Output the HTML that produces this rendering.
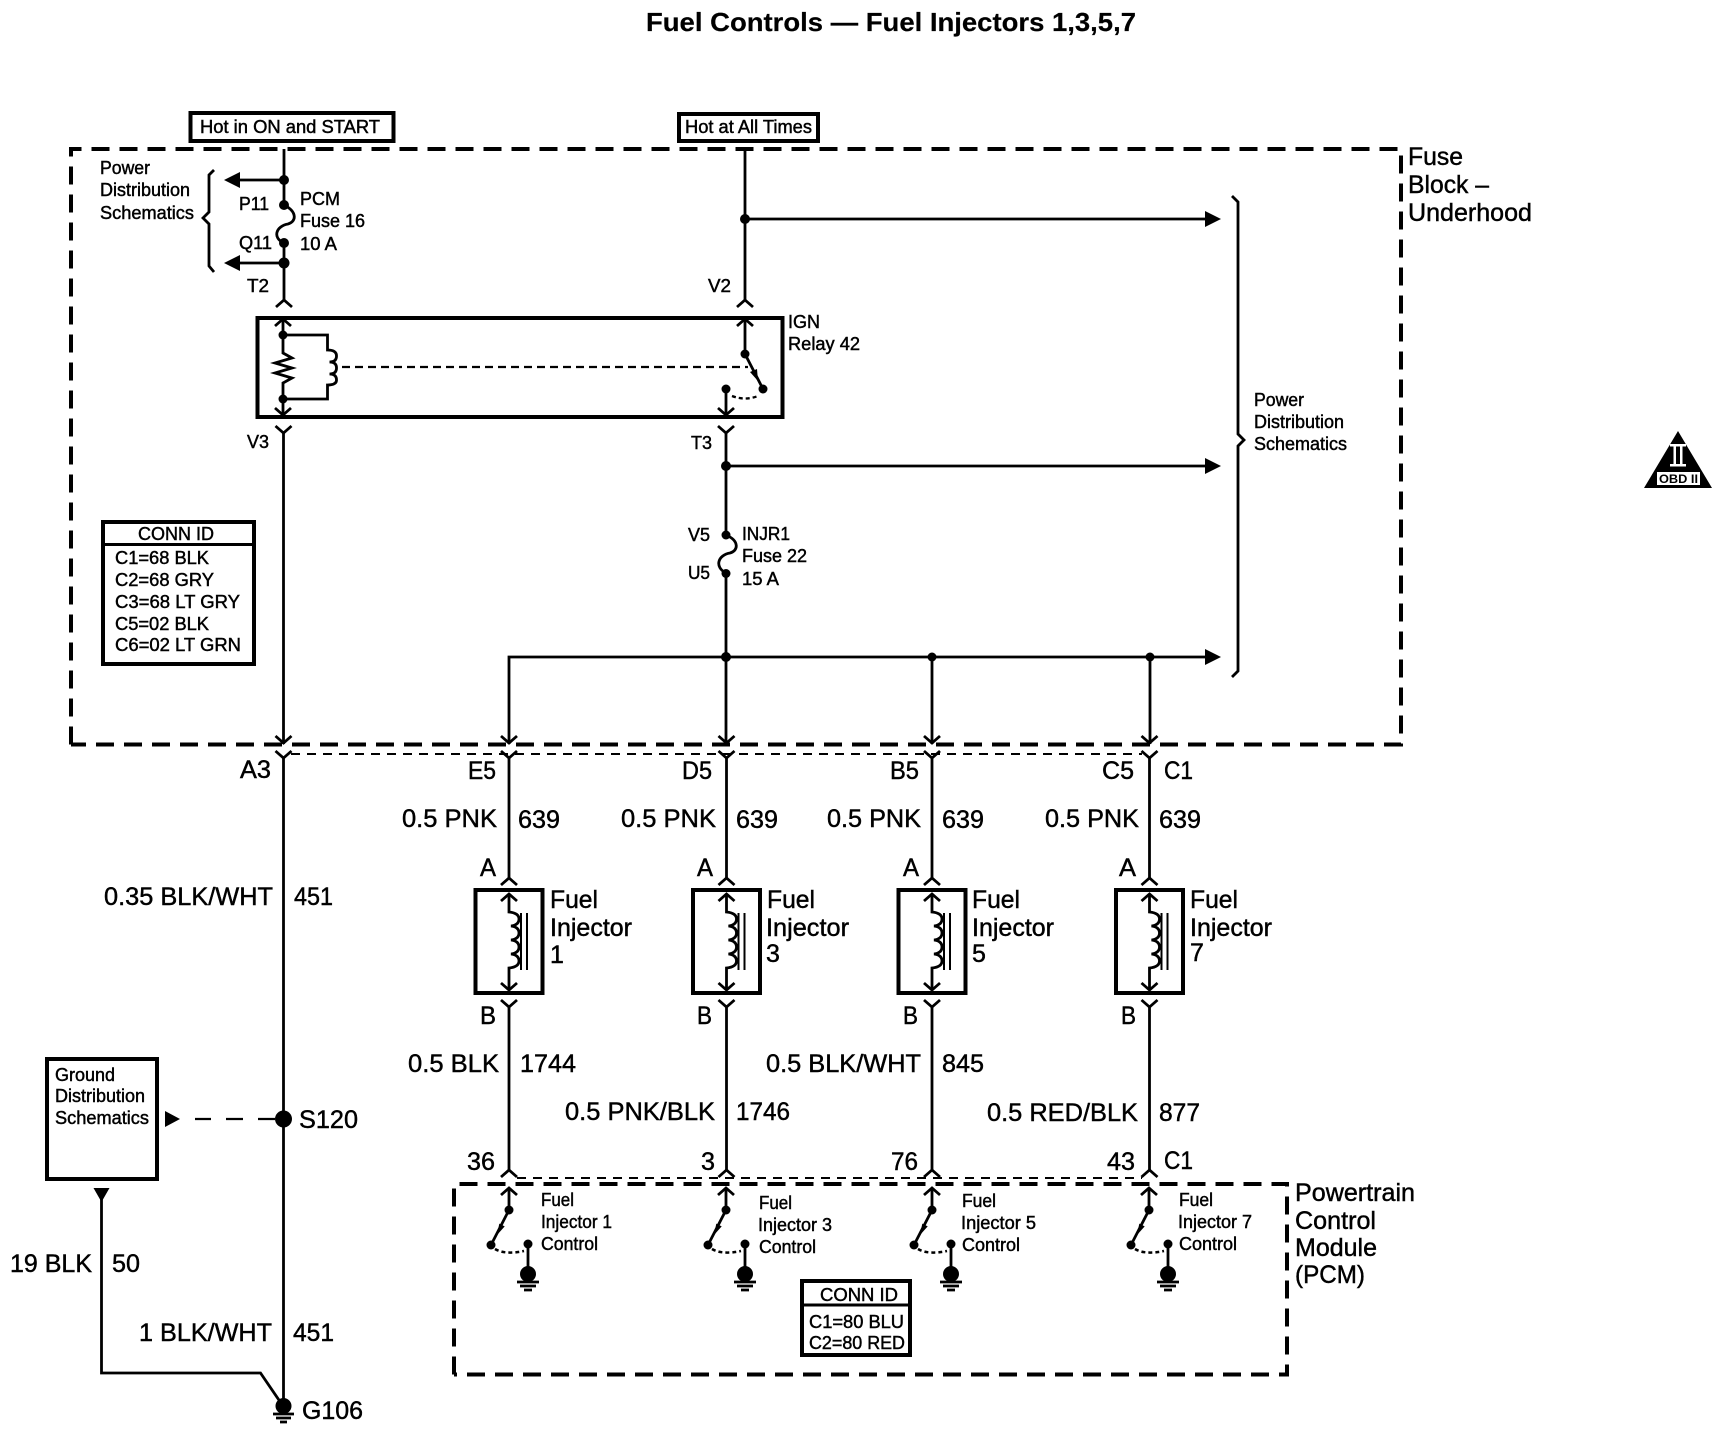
<!DOCTYPE html>
<html>
<head>
<meta charset="utf-8">
<title>Fuel Controls — Fuel Injectors 1,3,5,7</title>
<style>
html,body{margin:0;padding:0;background:#fff;}
svg{display:block;}
text{font-family:"Liberation Sans",Arial,sans-serif;fill:#000;stroke:#000;stroke-width:.45;}
.s{font-size:18px;}
.b{font-size:25px;}
.t{font-size:26px;font-weight:bold;stroke-width:.2;}
.w{fill:none;stroke:#000;stroke-width:2.8;}
.k{fill:none;stroke:#000;stroke-width:4;}
.bx{fill:none;stroke:#000;stroke-width:4;}
.d{fill:none;stroke:#000;stroke-width:4;stroke-dasharray:18 10;}
.n{fill:none;stroke:#000;stroke-width:2;stroke-dasharray:9 7;}
</style>
</head>
<body>
<svg xmlns="http://www.w3.org/2000/svg" width="1718" height="1456" viewBox="0 0 1718 1456">
<defs>
<path id="m" class="w" d="M-8,7 L0,0 L8,7"/>
<path id="f" class="w" d="M-8,-7 L0,0 L8,-7"/>
<g id="inj">
  <use href="#m" x="0" y="878"/>
  <rect class="bx" x="-33.5" y="890" width="67" height="103"/>
  <use href="#m" x="0" y="894"/>
  <path class="w" d="M0,894 V912 q10,1 10,7 q0,6 -8,7 q8,1 8,7 q0,6 -8,7 q8,1 8,7 q0,6 -8,7 q8,1 8,7 q0,6 -10,7 V990"/>
  <path class="w" d="M12,913 V970 M18,913 V970" style="stroke-width:2"/>
  <use href="#f" x="0" y="990"/>
  <use href="#f" x="0" y="1007"/>
  <path class="w" d="M0,1007 V1170"/>
  <use href="#m" x="0" y="1170"/>
  <use href="#f" x="0" y="758"/>
  <path class="w" d="M0,758 V878"/>
  <use href="#f" x="0" y="743"/>
</g>
<g id="sw">
  <use href="#m" x="0" y="1188"/>
  <path class="w" d="M0,1188 V1210 L-18,1245"/>
  <polygon points="-12,1235 -4.3,1226.4 -9.7,1223.6" fill="#000"/>
  <circle cx="0" cy="1210" r="4.5" fill="#000"/>
  <circle cx="-18" cy="1245" r="4.5" fill="#000"/>
  <circle cx="19" cy="1244" r="4.5" fill="#000"/>
  <path class="w" d="M19,1244 V1274"/>
  <circle cx="19" cy="1274" r="8" fill="#000"/>
  <path class="w" d="M8,1282 H30 M11,1286 H27 M15,1290 H23"/>
  <path d="M-14,1249 Q-4,1255 15,1251" fill="none" stroke="#000" stroke-width="2.5" stroke-dasharray="4 3"/>
</g>
</defs>

<text class="t" x="646" y="31" textLength="490" lengthAdjust="spacingAndGlyphs">Fuel Controls — Fuel Injectors 1,3,5,7</text>

<!-- Top labels -->
<rect class="bx" x="190.5" y="113" width="203" height="28"/>
<text class="s" x="200" y="133" textLength="180" lengthAdjust="spacingAndGlyphs">Hot in ON and START</text>
<rect class="bx" x="679" y="114" width="139" height="27"/>
<text class="s" x="685" y="133" textLength="127" lengthAdjust="spacingAndGlyphs">Hot at All Times</text>

<!-- Fuse block -->
<path class="d" d="M71,744.5 V149 H1401 V744.5 H71"/>
<text class="b" x="1408" y="165" textLength="55" lengthAdjust="spacingAndGlyphs">Fuse</text>
<text class="b" x="1408" y="193" textLength="81" lengthAdjust="spacingAndGlyphs">Block –</text>
<text class="b" x="1408" y="221" textLength="124" lengthAdjust="spacingAndGlyphs">Underhood</text>

<!-- Left feed -->
<path class="w" d="M284,149 V205 C298,212 296,222 288,224 C276,226 272,238 284,243 V300"/>
<circle cx="284" cy="180" r="5" fill="#000"/>
<circle cx="284" cy="205" r="5" fill="#000"/>
<circle cx="284" cy="243" r="5" fill="#000"/>
<circle cx="284" cy="263" r="5.5" fill="#000"/>
<path class="w" d="M284,180 H238 M284,263 H238"/>
<polygon points="224,180 240,172 240,188" fill="#000"/>
<polygon points="224,263 240,255 240,271" fill="#000"/>
<use href="#m" x="284" y="300"/>
<path class="w" d="M214,170 L209,175 V212 L203,218 L209,224 V266 L214,272"/>
<text class="s" x="100" y="174" textLength="50" lengthAdjust="spacingAndGlyphs">Power</text>
<text class="s" x="100" y="196" textLength="90" lengthAdjust="spacingAndGlyphs">Distribution</text>
<text class="s" x="100" y="219" textLength="94" lengthAdjust="spacingAndGlyphs">Schematics</text>
<text class="s" x="239" y="210" textLength="30" lengthAdjust="spacingAndGlyphs">P11</text>
<text class="s" x="239" y="249" textLength="33" lengthAdjust="spacingAndGlyphs">Q11</text>
<text class="s" x="247" y="292" textLength="22" lengthAdjust="spacingAndGlyphs">T2</text>
<text class="s" x="300" y="205" textLength="40" lengthAdjust="spacingAndGlyphs">PCM</text>
<text class="s" x="300" y="227" textLength="65" lengthAdjust="spacingAndGlyphs">Fuse 16</text>
<text class="s" x="300" y="250" textLength="37" lengthAdjust="spacingAndGlyphs">10 A</text>

<!-- Right feed -->
<path class="w" d="M745,149 V300 M745,219 H1208"/>
<circle cx="745" cy="219" r="5" fill="#000"/>
<polygon points="1221,219 1205,211 1205,227" fill="#000"/>
<use href="#m" x="745" y="300"/>
<text class="s" x="708" y="292" textLength="23" lengthAdjust="spacingAndGlyphs">V2</text>

<!-- Relay -->
<rect class="bx" x="257.5" y="318" width="525" height="99"/>
<use href="#m" x="283" y="319"/>
<path class="w" d="M283,319 V353 L292,358 L275,363 L292,368 L275,373 L292,378 L283,383 V414"/>
<circle cx="283" cy="335" r="4.5" fill="#000"/>
<circle cx="283" cy="399" r="4.5" fill="#000"/>
<path class="w" d="M283,335 H327.5 V350 q9,0 9,6 q0,6 -7,6 q7,0 7,6 q0,6 -7,6 q7,0 7,6 q0,5 -9,5 V399 H283"/>
<use href="#f" x="283" y="415"/>
<path d="M342,367 H748" fill="none" stroke="#000" stroke-width="2.2" stroke-dasharray="8 5"/>
<use href="#m" x="745" y="319"/>
<path class="w" d="M745,319 V354 L763,389"/>
<polygon points="758,381 750,372 757,369" fill="#000"/>
<circle cx="745" cy="354" r="4.5" fill="#000"/>
<circle cx="763" cy="389" r="4.5" fill="#000"/>
<circle cx="726" cy="389" r="4.5" fill="#000"/>
<path class="w" d="M726,389 V414"/>
<use href="#f" x="726" y="415"/>
<path d="M732,396 Q745,401 758,396" fill="none" stroke="#000" stroke-width="2.3" stroke-dasharray="4 3"/>
<text class="s" x="788" y="328" textLength="32" lengthAdjust="spacingAndGlyphs">IGN</text>
<text class="s" x="788" y="350" textLength="72" lengthAdjust="spacingAndGlyphs">Relay 42</text>

<!-- V3 / T3 -->
<use href="#f" x="283.5" y="433"/>
<use href="#f" x="726" y="433"/>
<text class="s" x="247" y="448" textLength="22" lengthAdjust="spacingAndGlyphs">V3</text>
<text class="s" x="691" y="449" textLength="21" lengthAdjust="spacingAndGlyphs">T3</text>
<path class="w" d="M726,433 V535 C740,541 738,551 730,553 C718,555 714,567 726,573 V744"/>
<path class="w" d="M726,466 H1208"/>
<circle cx="726" cy="466" r="5" fill="#000"/>
<polygon points="1221,466 1205,458 1205,474" fill="#000"/>
<circle cx="726" cy="535" r="4.5" fill="#000"/>
<circle cx="726" cy="573.5" r="4.5" fill="#000"/>
<text class="s" x="688" y="541" textLength="22" lengthAdjust="spacingAndGlyphs">V5</text>
<text class="s" x="688" y="579" textLength="22" lengthAdjust="spacingAndGlyphs">U5</text>
<text class="s" x="742" y="540" textLength="48" lengthAdjust="spacingAndGlyphs">INJR1</text>
<text class="s" x="742" y="562" textLength="65" lengthAdjust="spacingAndGlyphs">Fuse 22</text>
<text class="s" x="742" y="585" textLength="37" lengthAdjust="spacingAndGlyphs">15 A</text>

<!-- Bus -->
<path class="w" d="M509,744 V657 H1208 M932,657 V744 M1150,657 V744"/>
<circle cx="726" cy="657" r="5" fill="#000"/>
<circle cx="932" cy="657" r="4.5" fill="#000"/>
<circle cx="1150" cy="657" r="4.5" fill="#000"/>
<polygon points="1221,657 1205,649 1205,665" fill="#000"/>

<!-- Right brace -->
<path class="w" d="M1232,196 L1238,202 V434 L1244,440 L1238,446 V671 L1232,677"/>
<text class="s" x="1254" y="406" textLength="50" lengthAdjust="spacingAndGlyphs">Power</text>
<text class="s" x="1254" y="428" textLength="90" lengthAdjust="spacingAndGlyphs">Distribution</text>
<text class="s" x="1254" y="450" textLength="93" lengthAdjust="spacingAndGlyphs">Schematics</text>

<!-- CONN ID top -->
<rect class="bx" x="103" y="522" width="151" height="142"/>
<path class="k" d="M103,544.5 H254" style="stroke-width:3"/>
<text class="s" x="138" y="540" textLength="76" lengthAdjust="spacingAndGlyphs">CONN ID</text>
<text class="s" x="115" y="564" textLength="94" lengthAdjust="spacingAndGlyphs">C1=68 BLK</text>
<text class="s" x="115" y="586" textLength="99" lengthAdjust="spacingAndGlyphs">C2=68 GRY</text>
<text class="s" x="115" y="608" textLength="125" lengthAdjust="spacingAndGlyphs">C3=68 LT GRY</text>
<text class="s" x="115" y="630" textLength="94" lengthAdjust="spacingAndGlyphs">C5=02 BLK</text>
<text class="s" x="115" y="651" textLength="126" lengthAdjust="spacingAndGlyphs">C6=02 LT GRN</text>

<!-- A3 ground wire -->
<path class="w" d="M283.5,433 V744"/>
<use href="#f" x="283.5" y="743"/>
<use href="#f" x="283.5" y="758"/>
<path class="w" d="M283.5,758 V1406"/>
<path class="n" d="M291,754 H1142"/>
<path class="n" d="M517,1178 H1142"/>
<text class="b" x="240" y="778" textLength="31" lengthAdjust="spacingAndGlyphs">A3</text>
<text class="b" x="104" y="905" textLength="169" lengthAdjust="spacingAndGlyphs">0.35 BLK/WHT</text>
<text class="b" x="294" y="905" textLength="39" lengthAdjust="spacingAndGlyphs">451</text>
<circle cx="283.5" cy="1119" r="8.5" fill="#000"/>
<text class="b" x="299" y="1128" textLength="59" lengthAdjust="spacingAndGlyphs">S120</text>
<path class="w" d="M195,1119 H211 M226,1119 H243 M258,1119 H275" style="stroke-width:2.2"/>
<polygon points="180,1119 165,1111 165,1127" fill="#000"/>
<rect class="bx" x="47" y="1059" width="110" height="120"/>
<text class="s" x="55" y="1081" textLength="60" lengthAdjust="spacingAndGlyphs">Ground</text>
<text class="s" x="55" y="1102" textLength="90" lengthAdjust="spacingAndGlyphs">Distribution</text>
<text class="s" x="55" y="1124" textLength="94" lengthAdjust="spacingAndGlyphs">Schematics</text>
<polygon points="101.5,1202 93.5,1188 109.5,1188" fill="#000"/>
<path class="w" d="M101.5,1198 V1373 H260.5 L283,1406"/>
<text class="b" x="10" y="1272" textLength="82" lengthAdjust="spacingAndGlyphs">19 BLK</text>
<text class="b" x="112" y="1272" textLength="28" lengthAdjust="spacingAndGlyphs">50</text>
<text class="b" x="139" y="1341" textLength="133" lengthAdjust="spacingAndGlyphs">1 BLK/WHT</text>
<text class="b" x="293" y="1341" textLength="41" lengthAdjust="spacingAndGlyphs">451</text>
<circle cx="283.5" cy="1406" r="8" fill="#000"/>
<path class="w" d="M273,1414 H294 M276,1418 H291 M280,1422 H287"/>
<text class="b" x="302" y="1419" textLength="61" lengthAdjust="spacingAndGlyphs">G106</text>

<!-- Injectors -->
<use href="#inj" x="509"/>
<use href="#inj" x="726.5"/>
<use href="#inj" x="932"/>
<use href="#inj" x="1149.5"/>

<!-- labels per col -->
<text class="b" x="468" y="779" textLength="28" lengthAdjust="spacingAndGlyphs">E5</text>
<text class="b" x="682" y="779" textLength="30" lengthAdjust="spacingAndGlyphs">D5</text>
<text class="b" x="890" y="779" textLength="29" lengthAdjust="spacingAndGlyphs">B5</text>
<text class="b" x="1102" y="779" textLength="32" lengthAdjust="spacingAndGlyphs">C5</text>
<text class="b" x="1164" y="779" textLength="29" lengthAdjust="spacingAndGlyphs">C1</text>

<text class="b" x="402" y="827" textLength="95" lengthAdjust="spacingAndGlyphs">0.5 PNK</text>
<text class="b" x="518" y="828" textLength="42" lengthAdjust="spacingAndGlyphs">639</text>
<text class="b" x="621" y="827" textLength="95" lengthAdjust="spacingAndGlyphs">0.5 PNK</text>
<text class="b" x="736" y="828" textLength="42" lengthAdjust="spacingAndGlyphs">639</text>
<text class="b" x="827" y="827" textLength="94" lengthAdjust="spacingAndGlyphs">0.5 PNK</text>
<text class="b" x="942" y="828" textLength="42" lengthAdjust="spacingAndGlyphs">639</text>
<text class="b" x="1045" y="827" textLength="94" lengthAdjust="spacingAndGlyphs">0.5 PNK</text>
<text class="b" x="1159" y="828" textLength="42" lengthAdjust="spacingAndGlyphs">639</text>

<text class="b" x="480" y="876" textLength="16" lengthAdjust="spacingAndGlyphs">A</text>
<text class="b" x="697" y="876" textLength="16" lengthAdjust="spacingAndGlyphs">A</text>
<text class="b" x="903" y="876" textLength="16" lengthAdjust="spacingAndGlyphs">A</text>
<text class="b" x="1119" y="876" textLength="17" lengthAdjust="spacingAndGlyphs">A</text>

<text class="b" x="550" y="908" textLength="48" lengthAdjust="spacingAndGlyphs">Fuel</text>
<text class="b" x="550" y="936" textLength="82" lengthAdjust="spacingAndGlyphs">Injector</text>
<text class="b" x="550" y="963">1</text>
<text class="b" x="767" y="908" textLength="48" lengthAdjust="spacingAndGlyphs">Fuel</text>
<text class="b" x="766" y="936" textLength="83" lengthAdjust="spacingAndGlyphs">Injector</text>
<text class="b" x="766" y="962">3</text>
<text class="b" x="972" y="908" textLength="48" lengthAdjust="spacingAndGlyphs">Fuel</text>
<text class="b" x="972" y="936" textLength="82" lengthAdjust="spacingAndGlyphs">Injector</text>
<text class="b" x="972" y="962">5</text>
<text class="b" x="1190" y="908" textLength="48" lengthAdjust="spacingAndGlyphs">Fuel</text>
<text class="b" x="1190" y="936" textLength="82" lengthAdjust="spacingAndGlyphs">Injector</text>
<text class="b" x="1190" y="961">7</text>

<text class="b" x="480" y="1024" textLength="16" lengthAdjust="spacingAndGlyphs">B</text>
<text class="b" x="697" y="1024" textLength="15" lengthAdjust="spacingAndGlyphs">B</text>
<text class="b" x="903" y="1024" textLength="15" lengthAdjust="spacingAndGlyphs">B</text>
<text class="b" x="1121" y="1024" textLength="15" lengthAdjust="spacingAndGlyphs">B</text>

<text class="b" x="408" y="1072" textLength="91" lengthAdjust="spacingAndGlyphs">0.5 BLK</text>
<text class="b" x="520" y="1072" textLength="56" lengthAdjust="spacingAndGlyphs">1744</text>
<text class="b" x="565" y="1120" textLength="150" lengthAdjust="spacingAndGlyphs">0.5 PNK/BLK</text>
<text class="b" x="736" y="1120" textLength="54" lengthAdjust="spacingAndGlyphs">1746</text>
<text class="b" x="766" y="1072" textLength="155" lengthAdjust="spacingAndGlyphs">0.5 BLK/WHT</text>
<text class="b" x="942" y="1072" textLength="42" lengthAdjust="spacingAndGlyphs">845</text>
<text class="b" x="987" y="1121" textLength="151" lengthAdjust="spacingAndGlyphs">0.5 RED/BLK</text>
<text class="b" x="1159" y="1121" textLength="41" lengthAdjust="spacingAndGlyphs">877</text>

<text class="b" x="467" y="1170" textLength="28" lengthAdjust="spacingAndGlyphs">36</text>
<text class="b" x="701" y="1170" textLength="14" lengthAdjust="spacingAndGlyphs">3</text>
<text class="b" x="891" y="1170" textLength="27" lengthAdjust="spacingAndGlyphs">76</text>
<text class="b" x="1107" y="1170" textLength="28" lengthAdjust="spacingAndGlyphs">43</text>
<text class="b" x="1164" y="1169" textLength="29" lengthAdjust="spacingAndGlyphs">C1</text>

<!-- PCM -->
<path class="d" d="M454,1374.5 V1184 H1287 V1374.5 H454"/>
<use href="#sw" x="509"/>
<use href="#sw" x="726"/>
<use href="#sw" x="932"/>
<use href="#sw" x="1149"/>
<text class="s" x="541" y="1206" textLength="33" lengthAdjust="spacingAndGlyphs">Fuel</text>
<text class="s" x="541" y="1228" textLength="71" lengthAdjust="spacingAndGlyphs">Injector 1</text>
<text class="s" x="541" y="1250" textLength="57" lengthAdjust="spacingAndGlyphs">Control</text>
<text class="s" x="759" y="1209" textLength="33" lengthAdjust="spacingAndGlyphs">Fuel</text>
<text class="s" x="758" y="1231" textLength="74" lengthAdjust="spacingAndGlyphs">Injector 3</text>
<text class="s" x="759" y="1253" textLength="57" lengthAdjust="spacingAndGlyphs">Control</text>
<text class="s" x="962" y="1207" textLength="34" lengthAdjust="spacingAndGlyphs">Fuel</text>
<text class="s" x="961" y="1229" textLength="75" lengthAdjust="spacingAndGlyphs">Injector 5</text>
<text class="s" x="962" y="1251" textLength="58" lengthAdjust="spacingAndGlyphs">Control</text>
<text class="s" x="1179" y="1206" textLength="34" lengthAdjust="spacingAndGlyphs">Fuel</text>
<text class="s" x="1178" y="1228" textLength="74" lengthAdjust="spacingAndGlyphs">Injector 7</text>
<text class="s" x="1179" y="1250" textLength="58" lengthAdjust="spacingAndGlyphs">Control</text>

<text class="b" x="1295" y="1201" textLength="120" lengthAdjust="spacingAndGlyphs">Powertrain</text>
<text class="b" x="1295" y="1229" textLength="81" lengthAdjust="spacingAndGlyphs">Control</text>
<text class="b" x="1295" y="1256" textLength="82" lengthAdjust="spacingAndGlyphs">Module</text>
<text class="b" x="1295" y="1283" textLength="70" lengthAdjust="spacingAndGlyphs">(PCM)</text>

<rect class="bx" x="802" y="1281" width="108" height="74"/>
<path class="k" d="M802,1305 H910" style="stroke-width:3"/>
<text class="s" x="820" y="1301" textLength="78" lengthAdjust="spacingAndGlyphs">CONN ID</text>
<text class="s" x="809" y="1328" textLength="95" lengthAdjust="spacingAndGlyphs">C1=80 BLU</text>
<text class="s" x="809" y="1349" textLength="96" lengthAdjust="spacingAndGlyphs">C2=80 RED</text>

<!-- OBD II -->
<polygon points="1678,431 1712,488 1644,488" fill="#000"/>
<rect x="1670" y="444" width="16" height="2.5" fill="#fff"/>
<rect x="1673.5" y="446" width="2.5" height="18" fill="#fff"/>
<rect x="1680" y="446" width="2.5" height="18" fill="#fff"/>
<rect x="1670" y="464" width="16" height="2.5" fill="#fff"/>
<rect x="1657" y="472" width="43" height="13" fill="#fff"/>
<text x="1659" y="483" style="font-size:12px;font-weight:bold;stroke-width:0" textLength="39" lengthAdjust="spacingAndGlyphs">OBD II</text>
</svg>
</body>
</html>
